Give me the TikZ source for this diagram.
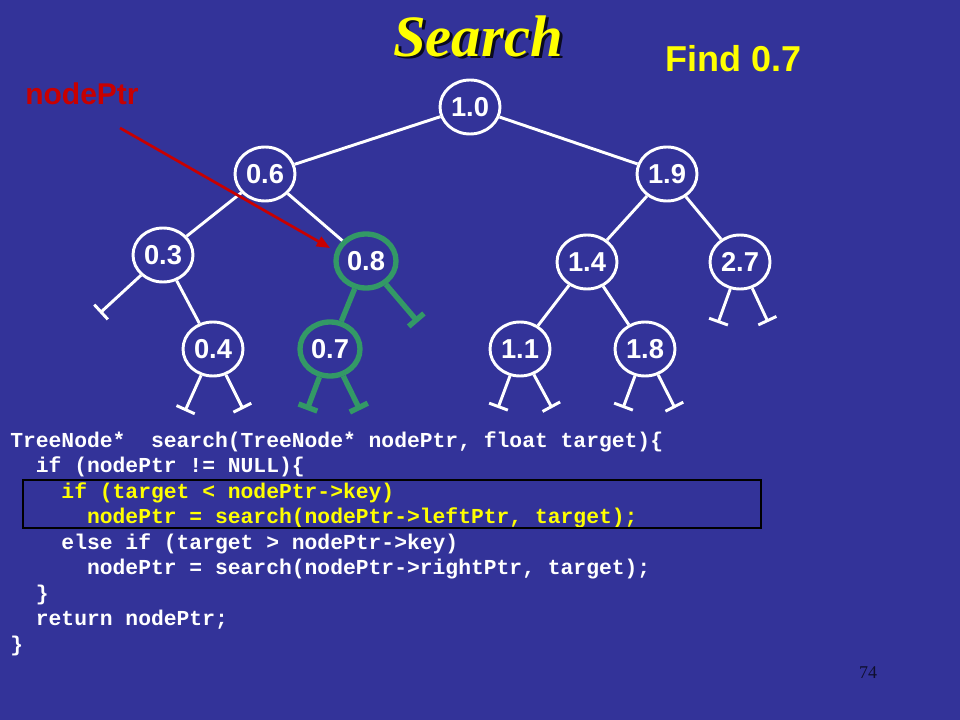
\documentclass[tikz,border=0pt]{standalone}
\usepackage{fontspec}
\setmainfont{Liberation Sans}
\newfontfamily\titlefont{Liberation Serif}
\newfontfamily\codefont{Liberation Mono}
\usepackage{tikz}
\usetikzlibrary{shapes.geometric, arrows.meta}
\definecolor{bg}{RGB}{51,51,153}
\definecolor{gr}{RGB}{51,153,102}
\definecolor{yel}{RGB}{255,255,0}
\definecolor{rd}{RGB}{200,0,0}
\tikzset{
tnode/.style={ellipse, draw=white, line width=2.2pt, minimum width=45pt, minimum height=40.5pt, inner sep=0pt, text=white, font=\bfseries\fontsize{20.5}{25}\selectfont},
gnode/.style={tnode, draw=gr, line width=4pt},
tedge/.style={white, line width=2.2pt},
gedge/.style={gr, line width=4pt},
nullptr/.style={tedge, -{Bar[width=15pt]}},
gnullptr/.style={gedge, -{Bar[width=15pt]}},
codeline/.style={anchor=base west, inner sep=0pt, font=\codefont\bfseries\fontsize{16}{19}\selectfont}
}

\begin{document}
\begin{tikzpicture}[x=0.75pt, y=-0.75pt]
\fill[bg] (0,0) rectangle (960,720);
% title, with its shadow
\node[anchor=base, inner sep=0pt, text=yel, font=\titlefont\bfseries\itshape\fontsize{44}{52}\selectfont] (title) at (478,57) {\rlap{\hspace{2.25pt}\raisebox{-1.5pt}{\textcolor{black!80!bg}{Search}}}Search};
\node[anchor=base west, inner sep=0pt, text=yel, font=\bfseries\fontsize{27}{32}\selectfont] (find) at (665,72) {Find 0.7};
\node[anchor=base west, inner sep=0pt, text=rd, font=\bfseries\fontsize{22.5}{27}\selectfont] (ptrlabel) at (25,105) {nodePtr};
% tree
\foreach \name/\x/\y/\key in {n10/470/107/1.0, n06/265/174/0.6, n19/667/174/1.9, n03/163/255/0.3, n14/587/262/1.4, n27/740/262/2.7, n04/213/349/0.4, n11/520/349/1.1, n18/645/349/1.8}{
\node[tnode] (\name) at (\x,\y) {\key};
}
\foreach \name/\x/\y/\key in {n08/366/261/0.8, n07/330/349/0.7}{
\node[gnode] (\name) at (\x,\y) {\key};
}
\foreach \a/\b in {n10/n06, n10/n19, n06/n03, n06/n08, n03/n04, n19/n14, n19/n27, n14/n11, n14/n18}{
\draw[tedge] (\a) -- (\b);
}
\draw[gedge] (n08) -- (n07);
% null pointers
\foreach \name/\dx/\dy/\side in {n03/-63/58/l, n04/-28/62/l, n04/30/60/r, n27/-22/61/l, n27/28/60/r, n11/-22/59/l, n11/32/59/r, n18/-22/59/l, n18/30/59/r}{
\coordinate (\name\side) at ([shift={(\dx,\dy)}]\name.center);
\draw[nullptr] (\name) -- (\name\side);
}
\foreach \name/\dx/\dy/\side in {n08/52/61/r, n07/-23/61/l, n07/30/61/r}{
\coordinate (\name\side) at ([shift={(\dx,\dy)}]\name.center);
\draw[gnullptr] (\name) -- (\name\side);
}
% pointer arrow
\coordinate (ptrtail) at (120,128);
\coordinate (ptrhead) at (330,248);
\draw[rd, line width=2pt, -{Triangle[length=10pt, width=8pt]}] (ptrtail) -- (ptrhead);
% code
\foreach \i/\ind/\col/\txt in {
1/0/white/{TreeNode*\ \ search(TreeNode* nodePtr, float target)\{},
2/2/white/{if (nodePtr != NULL)\{},
3/4/yel/{if (target < nodePtr->key)},
4/6/yel/{nodePtr = search(nodePtr->leftPtr, target);},
5/4/white/{else if (target > nodePtr->key)},
6/6/white/{nodePtr = search(nodePtr->rightPtr, target);},
7/2/white/{\}},
8/2/white/{return nodePtr;},
9/0/white/{\}}}{
\node[codeline, text=\col] (code\i) at ({10+\ind*12.8},{447+(\i-1)*25.5}) {\txt};
}
\draw[black, line width=1.5pt] (23,480) rectangle (761,528);
\node[anchor=base, inner sep=0pt, text=black!70!bg, font=\titlefont\fontsize{13.5}{16}\selectfont] (pagenum) at (868,678) {74};
\end{tikzpicture}
\end{document}
